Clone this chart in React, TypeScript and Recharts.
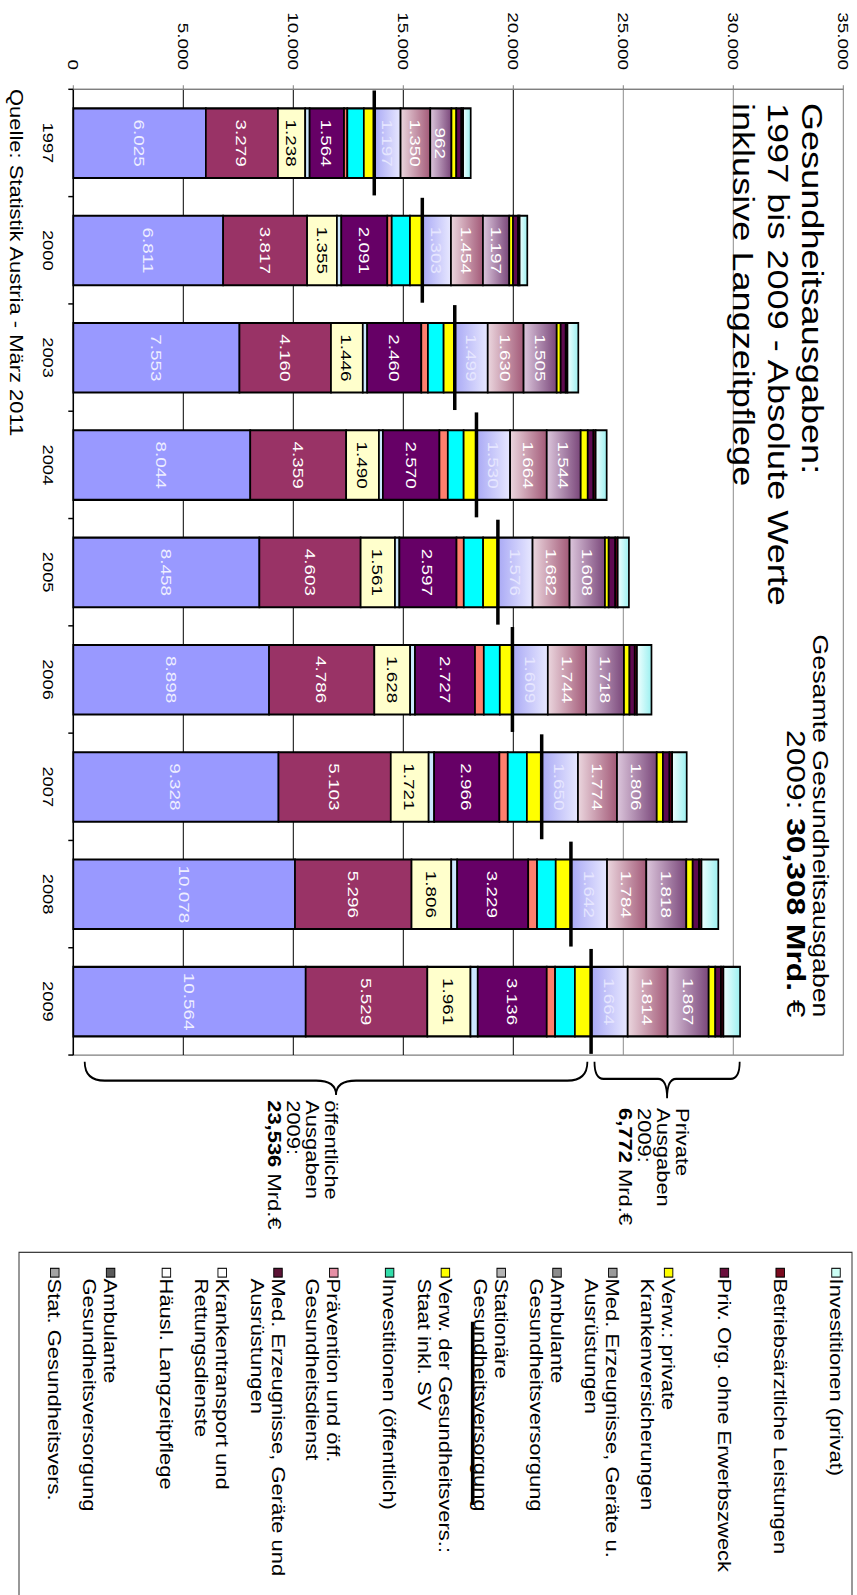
import React from 'react';
import {
  ComposedChart,
  Bar,
  Line,
  XAxis,
  YAxis,
  ReferenceLine,
  ReferenceArea,
  LabelList,
  Legend,
} from 'recharts';

// Jahre (Kategorien)
const years = ['1997', '2000', '2003', '2004', '2005', '2006', '2007', '2008', '2009'];

// Öffentliche Gesundheitsausgaben in Mio. €
const statVers = [6025, 6811, 7553, 8044, 8458, 8898, 9328, 10078, 10564];
const ambVers = [3279, 3817, 4160, 4359, 4603, 4786, 5103, 5296, 5529];
const langzeitpflege = [1238, 1355, 1446, 1490, 1561, 1628, 1721, 1806, 1961];
const krankentransport = [200, 200, 200, 180, 200, 220, 250, 270, 330];
const medErzPub = [1564, 2091, 2460, 2570, 2597, 2727, 2966, 3229, 3136];
const praevention = [150, 200, 300, 380, 330, 400, 380, 400, 380];
const investPub = [750, 830, 714, 720, 880, 727, 870, 850, 900];
const verwStaat = [474, 560, 506, 583, 671, 574, 672, 691, 736];

// Private Gesundheitsausgaben in Mio. €
const statPriv = [1197, 1303, 1499, 1530, 1576, 1609, 1650, 1642, 1664];
const ambPriv = [1350, 1454, 1630, 1664, 1682, 1744, 1774, 1784, 1814];
const medErzPriv = [962, 1197, 1505, 1544, 1608, 1718, 1806, 1818, 1867];
const verwPriv = [220, 170, 180, 320, 170, 250, 280, 290, 300];
const privOrg = [230, 230, 230, 260, 300, 240, 300, 290, 260];
const betriebsarzt = [80, 70, 80, 100, 110, 100, 120, 110, 110];
const investPriv = [345, 348, 492, 500, 509, 660, 662, 764, 757];

// Achsenteilung
const valueTicks = [0, 5000, 10000, 15000, 20000, 25000, 30000, 35000];

const FONT = '"Liberation Sans", Arial, sans-serif';
const STRETCH = 1.22;
const CHART_W = 1307;
const CHART_H = 857;
const PLOT_W = 791.6;
const LEGEND_LEFT = 1026;

type Series = {
  key: string;
  values: number[];
  fill: string;
  sector: 'pub' | 'priv';
  labelColor?: string;
  legend: string[];
  swatch: string;
};

// Stapelreihenfolge von der Nulllinie aus
const series: Series[] = [
  { key: 'statVers', values: statVers, fill: '#9999FF', sector: 'pub', labelColor: '#EEEEFF', legend: ['Stat. Gesundheitsvers.'], swatch: '#A3A3A3' },
  { key: 'ambVers', values: ambVers, fill: '#993366', sector: 'pub', labelColor: '#FFFFFF', legend: ['Ambulante', 'Gesundheitsversorgung'], swatch: '#5A5A5A' },
  { key: 'langzeitpflege', values: langzeitpflege, fill: '#FFFFCC', sector: 'pub', labelColor: '#000000', legend: ['Häusl. Langzeitpflege'], swatch: '#FFFFFF' },
  { key: 'krankentransport', values: krankentransport, fill: '#CCE8FF', sector: 'pub', legend: ['Krankentransport und', 'Rettungsdienste'], swatch: '#FFFFFF' },
  { key: 'medErzPub', values: medErzPub, fill: '#660066', sector: 'pub', labelColor: '#FFFFFF', legend: ['Med. Erzeugnisse, Geräte und', 'Ausrüstungen'], swatch: '#5C1436' },
  { key: 'praevention', values: praevention, fill: '#FF7F6E', sector: 'pub', legend: ['Prävention und öff.', 'Gesundheitsdienst'], swatch: '#E68FA5' },
  { key: 'investPub', values: investPub, fill: '#00FFFF', sector: 'pub', legend: ['Investitionen (öffentlich)'], swatch: '#33DDAA' },
  { key: 'verwStaat', values: verwStaat, fill: '#FFFF00', sector: 'pub', legend: ['Verw. der Gesundheitsvers.:', 'Staat inkl. SV'], swatch: '#FFFF00' },
  { key: 'statPriv', values: statPriv, fill: 'url(#gStatPriv)', sector: 'priv', labelColor: '#E6E6FF', legend: ['Stationäre', 'Gesundheitsversorgung'], swatch: '#B4B4B4' },
  { key: 'ambPriv', values: ambPriv, fill: 'url(#gAmbPriv)', sector: 'priv', labelColor: '#FFFFFF', legend: ['Ambulante', 'Gesundheitsversorgung'], swatch: '#8C8C8C' },
  { key: 'medErzPriv', values: medErzPriv, fill: 'url(#gMedPriv)', sector: 'priv', labelColor: '#FFFFFF', legend: ['Med. Erzeugnisse, Geräte u.', 'Ausrüstungen'], swatch: '#9A9A9A' },
  { key: 'verwPriv', values: verwPriv, fill: '#FFFF00', sector: 'priv', legend: ['Verw.: private', 'Krankenversicherungen'], swatch: '#FFFF00' },
  { key: 'privOrg', values: privOrg, fill: '#5E0A50', sector: 'priv', legend: ['Priv. Org. ohne Erwerbszweck'], swatch: '#6A0F3C' },
  { key: 'betriebsarzt', values: betriebsarzt, fill: '#7A0020', sector: 'priv', legend: ['Betriebsärztliche Leistungen'], swatch: '#7A0A1E' },
  { key: 'investPriv', values: investPriv, fill: 'url(#gInvPriv)', sector: 'priv', legend: ['Investitionen (privat)'], swatch: '#CCFFF5' },
];

const rows = years.map((year, i) => {
  const row: Record<string, number | string> = { year };
  let pub = 0;
  series.forEach((s) => {
    row[s.key] = s.values[i];
    if (s.sector === 'pub') pub += s.values[i];
  });
  row.pubTotal = pub;
  return row;
});

const last = years.length - 1;
const pubLast = series.filter((s) => s.sector === 'pub').reduce((a, s) => a + s.values[last], 0);
const privLast = series.filter((s) => s.sector === 'priv').reduce((a, s) => a + s.values[last], 0);
const totalLast = pubLast + privLast;

const fmtThousands = (v: number) => String(Math.round(v)).replace(/\B(?=(\d{3})+(?!\d))/g, '.');
const fmtMrd = (v: number) => (v / 1000).toFixed(3).replace('.', ',');

const segLabel = (color: string) => (p: any) => {
  const vb = p.viewBox && p.viewBox.width !== undefined ? p.viewBox : p;
  const { x, y, width, height } = vb;
  if (p.value === undefined || p.value === null) return null;
  return (
    <text
      x={x + width / 2}
      y={y + height / 2}
      dy="0.355em"
      textAnchor="middle"
      fill={color}
      fontSize={15.5}
      fontFamily={FONT}
    >
      {fmtThousands(Number(p.value))}
    </text>
  );
};

const ValueTick = (p: any) => (
  <text x={p.x} y={p.y} dy="0.355em" textAnchor="end" fontSize={15.5} fontFamily={FONT} fill="#000">
    {fmtThousands(Number(p.payload.value))}
  </text>
);

const YearTick = (p: any) => {
  const half = p.payload && p.payload.offset > 0 ? p.payload.offset : PLOT_W / years.length / 2;
  const isLast = p.index === years.length - 1;
  return (
    <g>
      <line x1={p.x - half} x2={p.x - half} y1={p.y} y2={p.y + 5} stroke="#000" strokeWidth={1.2} />
      {isLast && <line x1={p.x + half} x2={p.x + half} y1={p.y} y2={p.y + 5} stroke="#000" strokeWidth={1.2} />}
      <text x={p.x} y={p.y + 30.2} textAnchor="middle" fontSize={15} fontFamily={FONT} fill="#000">
        {p.payload.value}
      </text>
    </g>
  );
};

type BraceOpts = {
  inset: [number, number];
  r: number;
  flat: number;
  tip: number;
  textDx: number;
  textDy: number;
  lines: React.ReactNode[];
};

const braceShape = (o: BraceOpts) => (p: any) => {
  const right = p.x + p.width;
  const top = p.y + o.inset[0];
  const bottom = p.y + p.height - o.inset[1];
  const mid = (top + bottom) / 2;
  const endU = right + 5.5;
  const flatU = right + o.flat;
  const tipU = right + o.tip;
  const r = o.r;
  const d =
    `M${endU},${bottom} Q${flatU},${bottom} ${flatU},${bottom - r} ` +
    `L${flatU},${mid + r} Q${flatU},${mid} ${tipU},${mid} ` +
    `Q${flatU},${mid} ${flatU},${mid - r} L${flatU},${top + r} ` +
    `Q${flatU},${top} ${endU},${top}`;
  return (
    <g>
      <path d={d} fill="none" stroke="#000" strokeWidth={1.8} />
      <text fontSize={18} fontFamily={FONT} fill="#000">
        {o.lines.map((ln, i) => (
          <tspan key={i} x={right + o.textDx} y={mid + o.textDy + i * 19}>
            {ln}
          </tspan>
        ))}
      </text>
    </g>
  );
};

const legendItems = [...series].reverse();

const LegendBox = () => (
  <svg width={300} height={CHART_H} style={{ display: 'block', overflow: 'visible' }}>
    <rect x={0.5} y={5} width={330} height={833} fill="#fff" stroke="#333" strokeWidth={1} />
    {legendItems.map((s, i) => {
      const cy = 21 + 55.8 * i;
      return (
        <g key={s.key}>
          <rect x={13.6} y={cy - 4.25} width={7.2} height={8.5} fill={s.swatch} stroke="#000" strokeWidth={0.9} />
          <text fontSize={18} fontFamily={FONT} fill="#000">
            {s.legend.map((line, j) => (
              <tspan key={j} x={22} y={cy + 6.5 + j * 21}>
                {line}
              </tspan>
            ))}
          </text>
        </g>
      );
    })}
    <rect x={57.4} y={382.5} width={150.2} height={3.6} fill="#000" />
  </svg>
);

export default function App() {
  return (
    <div
      style={{
        position: 'absolute',
        left: 0,
        top: 0,
        width: 857,
        height: 1595,
        overflow: 'hidden',
        background: '#fff',
      }}
    >
      <div
        style={{
          position: 'absolute',
          left: 0,
          top: 0,
          width: CHART_W,
          height: CHART_H,
          transformOrigin: '0 0',
          transform: `translate(857px, 0px) rotate(90deg) scale(${STRETCH}, 1)`,
        }}
      >
        <ComposedChart
          width={CHART_W}
          height={CHART_H}
          data={rows}
          margin={{ top: 13.7, right: CHART_W - 73.2 - PLOT_W, bottom: 0, left: 0 }}
          barCategoryGap="17.8%"
        >
          <defs>
            <linearGradient id="gStatPriv" x1="0" y1="1" x2="0" y2="0">
              <stop offset="0" stopColor="#A9A9F5" />
              <stop offset="1" stopColor="#E8E8FF" />
            </linearGradient>
            <linearGradient id="gAmbPriv" x1="0" y1="1" x2="0" y2="0">
              <stop offset="0" stopColor="#EBD6DE" />
              <stop offset="1" stopColor="#A35A78" />
            </linearGradient>
            <linearGradient id="gMedPriv" x1="0" y1="1" x2="0" y2="0">
              <stop offset="0" stopColor="#DCC6DC" />
              <stop offset="1" stopColor="#7A477A" />
            </linearGradient>
            <linearGradient id="gInvPriv" x1="0" y1="1" x2="0" y2="0">
              <stop offset="0" stopColor="#F0FFFF" />
              <stop offset="1" stopColor="#9CF0F0" />
            </linearGradient>
          </defs>

          <ReferenceArea y1={0} y2={35000} fill="none" stroke="#7f7f7f" strokeWidth={1} zIndex={-60} />
          {valueTicks.slice(1, -1).map((v) => (
            <ReferenceLine key={v} y={v} stroke={v <= 20000 ? '#000' : '#8c8c8c'} strokeWidth={1} zIndex={-60} />
          ))}

          {series.map((s) => (
            <Bar
              key={s.key}
              dataKey={s.key}
              stackId="a"
              fill={s.fill}
              stroke="#000"
              strokeWidth={1.7}
              isAnimationActive={false}
            >
              {s.labelColor && <LabelList dataKey={s.key} content={segLabel(s.labelColor)} />}
            </Bar>
          ))}

          <Line
            dataKey="pubTotal"
            stroke="none"
            isAnimationActive={false}
            activeDot={false}
            legendType="none"
            dot={(p: any) => (
              <rect key={`m${p.index}`} x={p.cx - 43} y={p.cy - 1.75} width={86} height={3.5} fill="#000" />
            )}
          />

          <ReferenceArea
            y1={0}
            y2={pubLast}
            ifOverflow="visible"
            shape={braceShape({
              inset: [3.7, 11.4],
              r: 20,
              flat: 21,
              tip: 32.7,
              textDx: 37,
              textDy: 11,
              lines: [
                'öffentliche',
                'Ausgaben',
                `${years[last]}:`,
                <>
                  <tspan fontWeight="bold">{fmtMrd(pubLast)}</tspan>
                  {' Mrd.€'}
                </>,
              ],
            })}
          />
          <ReferenceArea
            y1={pubLast}
            y2={totalLast}
            ifOverflow="visible"
            shape={braceShape({
              inset: [0.4, 3.4],
              r: 9,
              flat: 19.5,
              tip: 35.4,
              textDx: 43.4,
              textDy: -9.1,
              lines: [
                'Private',
                'Ausgaben',
                `${years[last]}:`,
                <>
                  <tspan fontWeight="bold">{fmtMrd(privLast)}</tspan>
                  {' Mrd.€'}
                </>,
              ],
            })}
          />

          <XAxis
            dataKey="year"
            height={73.3}
            axisLine={{ stroke: '#000', strokeWidth: 1.5 }}
            tickLine={false}
            tickSize={0}
            tickMargin={0}
            interval={0}
            tick={YearTick}
          />
          <YAxis
            type="number"
            domain={[0, 35000]}
            ticks={valueTicks}
            interval={0}
            width={73.2}
            axisLine={{ stroke: '#7f7f7f' }}
            tickLine={{ stroke: '#7f7f7f' }}
            tickSize={3.3}
            tickMargin={12.5}
            tick={ValueTick}
          />

          <Legend
            layout="horizontal"
            align="center"
            verticalAlign="middle"
            wrapperStyle={{ left: LEGEND_LEFT, top: 0, width: 300, height: CHART_H, margin: 0 }}
            content={() => <LegendBox />}
          />
        </ComposedChart>

        <svg
          width={CHART_W}
          height={CHART_H}
          style={{ position: 'absolute', left: 0, top: 0, pointerEvents: 'none' }}
        >
          <text fontFamily={FONT} fontSize={29.6} fill="#000">
            <tspan x={84.4} y={55}>Gesundheitsausgaben:</tspan>
            <tspan x={84.4} y={89.5}>{`${years[0]} bis ${years[last]} - Absolute Werte`}</tspan>
            <tspan x={84.4} y={124}>inklusive Langzeitpflege</tspan>
          </text>
          <text x={834} y={44.3} textAnchor="end" fontFamily={FONT} fontSize={21.9} fill="#000">
            Gesamte Gesundheitsausgaben
          </text>
          <text x={834} y={69.6} textAnchor="end" fontFamily={FONT} fontSize={26} fill="#000">
            {`${years[last]}: `}
            <tspan fontWeight="bold">{`${fmtMrd(totalLast)} Mrd.`}</tspan>
            {' €'}
          </text>
          <text x={73} y={846.7} fontFamily={FONT} fontSize={18} fill="#000">
            Quelle: Statistik Austria - März 2011
          </text>
        </svg>
      </div>
    </div>
  );
}
